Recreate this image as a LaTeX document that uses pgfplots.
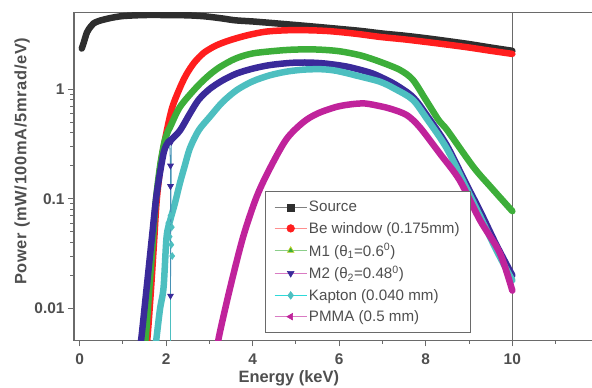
\documentclass[border=0pt]{standalone}
\usepackage{fontspec}
\setmainfont{Liberation Sans}
\usepackage{pgfplots}
\pgfplotsset{compat=1.18}
\definecolor{txt}{HTML}{4F4F4F}
\definecolor{axgray}{HTML}{6A6A6A}
\definecolor{csrc}{HTML}{2E2E2E}
\definecolor{cbe}{HTML}{FF1E1E}
\definecolor{cm1}{HTML}{3DAE3A}
\definecolor{cm2}{HTML}{3A2A9A}
\definecolor{ckap}{HTML}{4DBFC0}
\definecolor{cpm}{HTML}{C0239B}
\pgfplotstableread{
x y
0.05 2.35
0.1 2.7
0.17 3.3
0.25 3.7
0.32 3.98
0.45 4.2
0.7 4.45
1.0 4.65
1.5 4.75
2.0 4.75
2.5 4.72
2.9 4.62
3.3 4.42
3.6 4.25
4.0 4.15
4.5 4.0
5.0 3.85
5.5 3.7
6.0 3.55
6.5 3.4
7.0 3.22
7.5 3.08
8.0 2.92
8.5 2.75
9.0 2.58
9.5 2.4
10.0 2.24
}\src
\pgfplotstableread{
x y
1.52 0.004
1.57 0.0055
1.65 0.015
1.72 0.04
1.78 0.095
1.87 0.2
1.97 0.34
2.08 0.55
2.17 0.74
2.35 1.1
2.48 1.39
2.65 1.75
2.86 2.13
3.08 2.42
3.25 2.6
3.5 2.82
3.87 3.1
4.3 3.35
4.8 3.45
5.3 3.45
5.8 3.38
6.4 3.2
6.94 3.0
7.5 2.85
8.0 2.7
8.5 2.55
9.0 2.4
9.5 2.24
10.0 2.1
}\bew
\pgfplotstableread{
x y
1.48 0.004
1.53 0.0055
1.61 0.015
1.69 0.04
1.76 0.095
1.86 0.2
1.96 0.33
2.05 0.42
2.09 0.45
2.32 0.69
2.71 1.05
3.0 1.35
3.25 1.6
3.6 1.9
4.0 2.12
4.6 2.25
5.0 2.3
5.5 2.3
6.0 2.22
6.5 2.03
6.94 1.78
7.4 1.5
7.7 1.22
8.0 0.8
8.3 0.52
8.5 0.42
9.1 0.195
9.5 0.128
10.0 0.077
}\mone
\pgfplotstableread{
x y
1.38 0.004
1.43 0.0055
1.55 0.0155
1.67 0.044
1.78 0.11
1.94 0.26
2.05 0.33
2.13 0.35
2.32 0.42
2.55 0.6
2.75 0.8
3.0 1.0
3.3 1.2
3.63 1.39
4.0 1.54
4.4 1.66
4.9 1.74
5.3 1.75
5.7 1.71
6.2 1.6
6.7 1.42
6.94 1.3
7.3 1.1
7.7 0.85
8.02 0.58
8.48 0.31
8.94 0.135
9.25 0.078
9.63 0.038
10.0 0.02
}\mtwo
\pgfplotstableread{
x y
1.74 0.004
1.78 0.0055
1.86 0.01
1.94 0.0155
2.01 0.045
2.1 0.065
2.2 0.09
2.32 0.14
2.43 0.2
2.55 0.29
2.75 0.42
3.01 0.56
3.3 0.76
3.63 0.98
4.0 1.18
4.4 1.34
4.8 1.45
5.2 1.51
5.6 1.52
5.94 1.47
6.4 1.33
6.94 1.17
7.3 1.0
7.7 0.8
8.02 0.54
8.48 0.29
8.94 0.125
9.25 0.07
9.63 0.034
10.0 0.018
}\kap
\pgfplotstableread{
x y
3.18 0.004
3.22 0.0055
3.48 0.0155
3.78 0.045
4.09 0.104
4.4 0.19
4.78 0.35
5.17 0.5
5.5 0.6
5.94 0.69
6.3 0.73
6.6 0.74
6.94 0.7
7.2 0.66
7.56 0.58
7.86 0.45
8.32 0.26
8.78 0.148
9.25 0.064
9.71 0.032
10.0 0.0145
}\pmma
\begin{document}
\begin{tikzpicture}
\path[use as bounding box] (-74bp,-47bp) rectangle (518bp,340.3bp);
\begin{axis}[
  scale only axis, width=524bp, height=327.7bp,
  xmin=-0.13, xmax=11.98, ymode=log, ymin=0.0051, ymax=5.0,
  axis line style={draw=axgray, line width=1.1pt},
  xtick={0,2,4,6,8,10}, xticklabels={0,2,4,6,8,10},
  minor xtick={1,3,5,7,9,11},
  ytick={0.01,0.1,1}, yticklabels={0.01,0.1,1},
  xtick pos=left, ytick pos=left, tick align=outside,
  major tick length=6bp, minor tick length=3.5bp,
  every tick/.style={draw=axgray, line width=1pt},
  ticklabel style={font=\bfseries\fontsize{15.5}{18}\selectfont, text=txt},
  xticklabel style={yshift=-4bp},
  xlabel={Energy (keV)}, ylabel={Power (mW/100mA/5mrad/eV)},
  xlabel style={at={(axis description cs:0.41,-0.1144)}, anchor=center, font=\bfseries\fontsize{16.5}{19}\selectfont, text=txt},
  ylabel style={at={(axis description cs:-0.0992,0.546)}, anchor=center, font=\bfseries\fontsize{16.5}{19}\selectfont\addfontfeature{LetterSpace=4}, text=txt},
  legend image code/.code={\draw[mark repeat=2,mark phase=2,#1] plot coordinates {(0bp,0bp)(16bp,0bp)(32bp,0bp)};},
  legend cell align=left,
  legend style={draw=axgray, line width=0.8pt, fill=white, at={(0.3645,0.0214)}, anchor=south west,
    font=\fontsize{15.2}{17}\selectfont, text=txt, row sep=4.8bp, inner xsep=9bp, inner ysep=8bp},
]
\addplot[forget plot, axgray, line width=1.1pt] coordinates {(10,0.001) (10,10)};
\addplot[forget plot, csrc, line width=6.5bp, smooth, tension=0.5, line join=round, line cap=round] table {\src};
\addplot[forget plot, cbe, line width=6.5bp, smooth, tension=0.5, line join=round, line cap=round] table {\bew};
\addplot[forget plot, cm1, line width=6.5bp, smooth, tension=0.5, line join=round, line cap=round] table {\mone};
\addplot[forget plot, cm2, line width=6.5bp, smooth, tension=0.5, line join=round, line cap=round] table {\mtwo};
\addplot[forget plot, ckap, line width=6.5bp, smooth, tension=0.5, line join=round, line cap=round] table {\kap};
\addplot[forget plot, cpm, line width=6.5bp, smooth, tension=0.5, line join=round, line cap=round] table {\pmma};
\addplot[forget plot, ckap, line width=0.8pt] coordinates {(2.1,0.06) (2.1,0.001)};
\addplot[forget plot, only marks, mark=diamond*, mark size=3.5bp, mark options={fill=ckap, draw=ckap}] coordinates {(2.05,0.06) (2.08,0.045) (2.12,0.038) (2.14,0.03) (2.1,0.07) (2.13,0.055)};
\addplot[forget plot, color=ckap!70!cm2, line width=0.8pt, mark=triangle*, mark size=3.2bp, mark options={fill=cm2, draw=cm2, rotate=180}] coordinates {(2.08,0.33) (2.1,0.2) (2.1,0.13) (2.1,0.013) (2.12,0.33)};
\addlegendimage{line width=0.6pt, draw=gray, mark=square*, mark size=3.5bp, mark options={fill=csrc, draw=csrc}}
\addlegendentry{Source}
\addlegendimage{line width=0.6pt, draw=cbe!50, mark=*, mark size=3.8bp, mark options={fill=cbe, draw=cbe}}
\addlegendentry{Be window (0.175mm)}
\addlegendimage{line width=0.6pt, draw=cm1!60, mark=triangle*, mark size=3.8bp, mark options={fill=cm1, draw=yellow!70!cm1}}
\addlegendentry{M1 (θ\textsubscript{1}=0.6\textsuperscript{0})}
\addlegendimage{line width=0.6pt, draw=cpm!60, mark=triangle*, mark size=3.8bp, mark options={fill=cm2, draw=cm2, rotate=180}}
\addlegendentry{M2 (θ\textsubscript{2}=0.48\textsuperscript{0})}
\addlegendimage{line width=0.6pt, draw=ckap!60!cyan, mark=diamond*, mark size=3.8bp, mark options={fill=ckap, draw=ckap}}
\addlegendentry{Kapton (0.040 mm)}
\addlegendimage{line width=0.6pt, draw=cpm!60, mark=triangle*, mark size=3.8bp, mark options={fill=cpm, draw=cpm, rotate=90}}
\addlegendentry{PMMA (0.5 mm)}
\end{axis}
\end{tikzpicture}
\end{document}
